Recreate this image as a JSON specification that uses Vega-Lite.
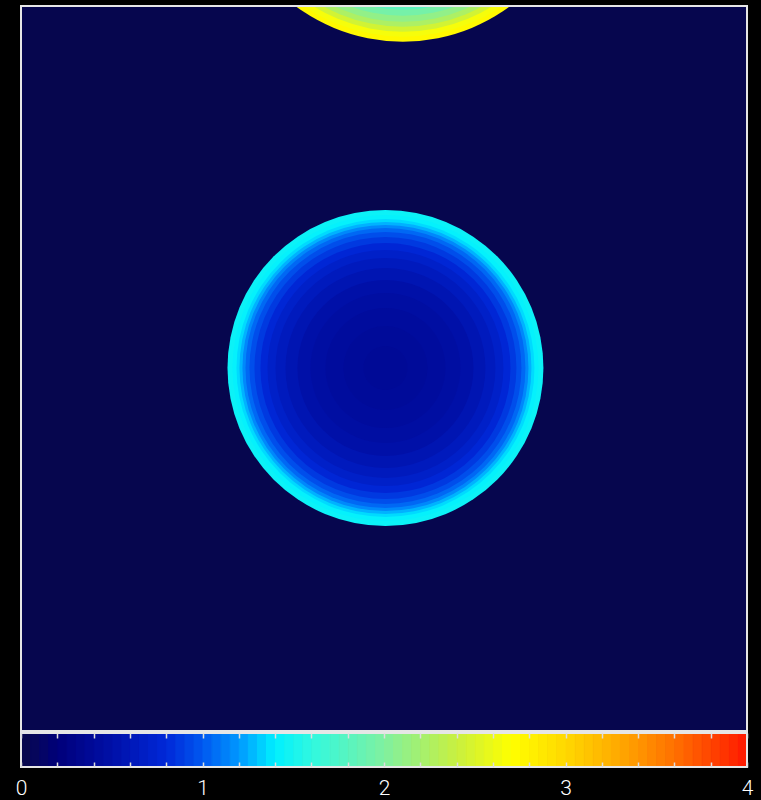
{
  "$schema": "https://vega.github.io/schema/vega-lite/v6.json",
  "background": "black",
  "autosize": {"type": "none"},
  "padding": {"left": 21, "top": 6, "right": 14, "bottom": 33},
  "width": 726,
  "height": 761,
  "config": {"view": {"stroke": null}, "axis": {"grid": false}},
  "datasets": {
    "blobs": [
      {"blob": "lower", "cx": 50.2, "cy": 50.07, "r": 21.76, "v": 1.45},
      {"blob": "lower", "cx": 50.2, "cy": 50.07, "r": 21.07, "v": 1.42},
      {"blob": "lower", "cx": 50.2, "cy": 50.07, "r": 20.52, "v": 1.35},
      {"blob": "lower", "cx": 50.2, "cy": 50.07, "r": 20.11, "v": 1.26},
      {"blob": "lower", "cx": 50.2, "cy": 50.07, "r": 19.7, "v": 1.15},
      {"blob": "lower", "cx": 50.2, "cy": 50.07, "r": 19.28, "v": 1.05},
      {"blob": "lower", "cx": 50.2, "cy": 50.07, "r": 18.73, "v": 0.96},
      {"blob": "lower", "cx": 50.2, "cy": 50.07, "r": 18.04, "v": 0.87},
      {"blob": "lower", "cx": 50.2, "cy": 50.07, "r": 17.22, "v": 0.78},
      {"blob": "lower", "cx": 50.2, "cy": 50.07, "r": 16.25, "v": 0.7},
      {"blob": "lower", "cx": 50.2, "cy": 50.07, "r": 15.15, "v": 0.63},
      {"blob": "lower", "cx": 50.2, "cy": 50.07, "r": 13.77, "v": 0.56},
      {"blob": "lower", "cx": 50.2, "cy": 50.07, "r": 12.12, "v": 0.5},
      {"blob": "lower", "cx": 50.2, "cy": 50.07, "r": 10.33, "v": 0.46},
      {"blob": "lower", "cx": 50.2, "cy": 50.07, "r": 8.26, "v": 0.43},
      {"blob": "lower", "cx": 50.2, "cy": 50.07, "r": 5.79, "v": 0.4},
      {"blob": "lower", "cx": 50.2, "cy": 50.07, "r": 3.03, "v": 0.38},
      {"blob": "upper", "cx": 52.6, "cy": 119.9, "r": 24.79, "v": 2.75},
      {"blob": "upper", "cx": 52.6, "cy": 119.9, "r": 24.1, "v": 2.65},
      {"blob": "upper", "cx": 52.6, "cy": 119.9, "r": 23.42, "v": 2.45},
      {"blob": "upper", "cx": 52.6, "cy": 119.9, "r": 22.73, "v": 2.25},
      {"blob": "upper", "cx": 52.6, "cy": 119.9, "r": 22.04, "v": 2.1},
      {"blob": "upper", "cx": 52.6, "cy": 119.9, "r": 21.21, "v": 1.95},
      {"blob": "upper", "cx": 52.6, "cy": 119.9, "r": 20.39, "v": 1.82},
      {"blob": "upper", "cx": 52.6, "cy": 119.9, "r": 19.28, "v": 1.72},
      {"blob": "upper", "cx": 52.6, "cy": 119.9, "r": 17.22, "v": 1.65}
    ],
    "bar": [
      {"v": 0.025}, {"v": 0.075}, {"v": 0.125}, {"v": 0.175}, {"v": 0.225}, {"v": 0.275}, {"v": 0.325}, {"v": 0.375}, {"v": 0.425}, {"v": 0.475},
      {"v": 0.525}, {"v": 0.575}, {"v": 0.625}, {"v": 0.675}, {"v": 0.725}, {"v": 0.775}, {"v": 0.825}, {"v": 0.875}, {"v": 0.925}, {"v": 0.975},
      {"v": 1.025}, {"v": 1.075}, {"v": 1.125}, {"v": 1.175}, {"v": 1.225}, {"v": 1.275}, {"v": 1.325}, {"v": 1.375}, {"v": 1.425}, {"v": 1.475},
      {"v": 1.525}, {"v": 1.575}, {"v": 1.625}, {"v": 1.675}, {"v": 1.725}, {"v": 1.775}, {"v": 1.825}, {"v": 1.875}, {"v": 1.925}, {"v": 1.975},
      {"v": 2.025}, {"v": 2.075}, {"v": 2.125}, {"v": 2.175}, {"v": 2.225}, {"v": 2.275}, {"v": 2.325}, {"v": 2.375}, {"v": 2.425}, {"v": 2.475},
      {"v": 2.525}, {"v": 2.575}, {"v": 2.625}, {"v": 2.675}, {"v": 2.725}, {"v": 2.775}, {"v": 2.825}, {"v": 2.875}, {"v": 2.925}, {"v": 2.975},
      {"v": 3.025}, {"v": 3.075}, {"v": 3.125}, {"v": 3.175}, {"v": 3.225}, {"v": 3.275}, {"v": 3.325}, {"v": 3.375}, {"v": 3.425}, {"v": 3.475},
      {"v": 3.525}, {"v": 3.575}, {"v": 3.625}, {"v": 3.675}, {"v": 3.725}, {"v": 3.775}, {"v": 3.825}, {"v": 3.875}, {"v": 3.925}, {"v": 3.975}
    ],
    "one": [{"id": 1}]
  },
  "resolve": {"scale": {"x": "independent"}, "axis": {"x": "independent"}},
  "layer": [
    {
      "data": {"name": "one"},
      "mark": {"type": "rect", "fill": "#06064e", "strokeWidth": 0},
      "encoding": {
        "x": {"datum": 0, "type": "quantitative", "scale": {"domain": [0, 100], "nice": false, "zero": false}, "axis": null},
        "x2": {"datum": 100},
        "y": {"datum": 0, "type": "quantitative", "scale": {"domain": [-4.966, 100], "nice": false, "zero": false}, "axis": null},
        "y2": {"datum": 100}
      }
    },
    {
      "data": {"name": "blobs"},
      "mark": {"type": "point", "shape": "circle", "filled": true, "opacity": 1, "strokeWidth": 0, "clip": true},
      "encoding": {
        "x": {"field": "cx", "type": "quantitative", "scale": {"domain": [0, 100], "nice": false, "zero": false}, "axis": null},
        "y": {"field": "cy", "type": "quantitative", "axis": null},
        "size": {"field": "r", "type": "quantitative", "scale": {"type": "pow", "exponent": 2, "domain": [0, 25], "range": [0, 131769], "zero": true, "nice": false}, "legend": null},
        "color": {
          "field": "v", "type": "quantitative",
          "scale": {
            "domain": [0, 0.2, 0.5, 0.8, 1.0, 1.2, 1.4, 1.6, 2.0, 2.4, 2.7, 3.0, 3.3, 3.6, 4.0],
            "range": ["#0a0a48", "#00007a", "#0010a8", "#0028d8", "#0058f0", "#0098ff", "#00f0ff", "#30f8e0", "#80f0a0", "#c8f040", "#ffff00", "#ffd800", "#ffa800", "#ff7000", "#ff1800"],
            "interpolate": "rgb"
          },
          "legend": null
        },
        "order": {"field": "r", "sort": "descending"}
      }
    },
    {
      "data": {"name": "one"},
      "mark": {"type": "rect", "fill": null, "fillOpacity": 0, "stroke": "#e6e6e6", "strokeWidth": 2},
      "encoding": {
        "x": {"datum": 0, "type": "quantitative", "scale": {"domain": [0, 100], "nice": false, "zero": false}, "axis": null},
        "x2": {"datum": 100},
        "y": {"datum": 0, "type": "quantitative", "axis": null},
        "y2": {"datum": 100}
      }
    },
    {
      "data": {"name": "bar"},
      "mark": {"type": "rect", "strokeWidth": 1},
      "encoding": {
        "x": {
          "field": "v", "type": "quantitative", "bin": {"step": 0.05, "extent": [0, 4]},
          "scale": {"domain": [0, 4], "nice": false, "zero": false},
          "axis": {
            "orient": "bottom", "title": null, "domain": false, "zindex": 2,
            "values": [0, 0.2, 0.4, 0.6, 0.8, 1, 1.2, 1.4, 1.6, 1.8, 2, 2.2, 2.4, 2.6, 2.8, 3, 3.2, 3.4, 3.6, 3.8, 4],
            "tickSize": -5, "tickColor": "#dddddd", "tickWidth": 1.5,
            "labelExpr": "datum.value % 1 === 0 ? format(datum.value, 'd') : ''",
            "labelColor": "white", "labelFont": "Roboto", "labelFontWeight": 300, "labelFontSize": 21,
            "labelPadding": 15, "labelFlush": false, "labelOverlap": false
          }
        },
        "y": {"datum": -0.276, "type": "quantitative", "axis": null},
        "y2": {"datum": -4.966},
        "color": {"field": "v", "type": "quantitative", "legend": null},
        "stroke": {
          "field": "v", "type": "quantitative", "legend": null,
          "scale": {
            "domain": [0, 0.2, 0.5, 0.8, 1.0, 1.2, 1.4, 1.6, 2.0, 2.4, 2.7, 3.0, 3.3, 3.6, 4.0],
            "range": ["#0a0a48", "#00007a", "#0010a8", "#0028d8", "#0058f0", "#0098ff", "#00f0ff", "#30f8e0", "#80f0a0", "#c8f040", "#ffff00", "#ffd800", "#ffa800", "#ff7000", "#ff1800"],
            "interpolate": "rgb"
          }
        }
      }
    },
    {
      "data": {"name": "one"},
      "mark": {"type": "rect", "fill": null, "fillOpacity": 0, "stroke": "#e6e6e6", "strokeWidth": 2},
      "encoding": {
        "x": {
          "datum": 0, "type": "quantitative",
          "scale": {"domain": [0, 4], "nice": false, "zero": false},
          "axis": {
            "orient": "bottom", "offset": -34, "title": null, "domain": false, "labels": false, "zindex": 2,
            "values": [0, 0.2, 0.4, 0.6, 0.8, 1, 1.2, 1.4, 1.6, 1.8, 2, 2.2, 2.4, 2.6, 2.8, 3, 3.2, 3.4, 3.6, 3.8, 4],
            "tickSize": 5, "tickColor": "#dddddd", "tickWidth": 1.5
          }
        },
        "x2": {"datum": 4},
        "y": {"datum": -0.276, "type": "quantitative", "axis": null},
        "y2": {"datum": -4.966}
      }
    }
  ]
}
